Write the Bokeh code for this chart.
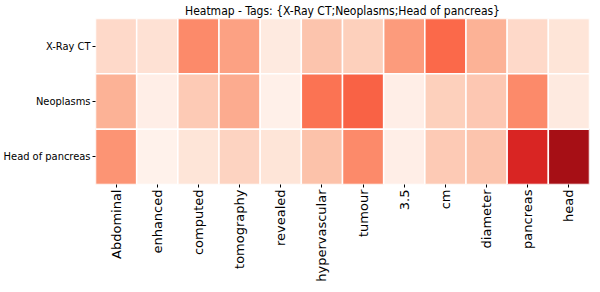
import numpy as np
from bokeh.plotting import figure
from bokeh.models import ColumnDataSource, LinearColorMapper
from bokeh.palettes import Reds256
from bokeh.transform import transform
from bokeh.embed import file_html
from bokeh.resources import INLINE

words = ["Abdominal", "enhanced", "computed", "tomography", "revealed", "hypervascular",
         "tumour", "3.5", "cm", "diameter", "pancreas", "head"]
tags = ["X-Ray CT", "Neoplasms", "Head of pancreas"]

xray_ct = [0.15, 0.12, 0.40, 0.33, 0.07, 0.22, 0.18, 0.35, 0.50, 0.28, 0.15, 0.10]
neoplasms = [0.28, 0.04, 0.20, 0.30, 0.03, 0.47, 0.52, 0.04, 0.18, 0.21, 0.40, 0.07]
head_of_pancreas = [0.37, 0.02, 0.10, 0.17, 0.10, 0.23, 0.40, 0.04, 0.20, 0.22, 0.70, 0.87]

rows = [xray_ct, neoplasms, head_of_pancreas]
xs, ys, vals = [], [], []
for tag, row in zip(tags, rows):
    for w, v in zip(words, row):
        xs.append(w)
        ys.append(tag)
        vals.append(v)
src = ColumnDataSource(dict(x=xs, y=ys, v=vals))

mapper = LinearColorMapper(palette=list(Reds256[::-1]), low=0.0, high=1.0)

p = figure(width=592, height=284, x_range=words, y_range=list(reversed(tags)),
           output_backend="svg", toolbar_location=None,
           title="Heatmap - Tags: {X-Ray CT;Neoplasms;Head of pancreas}",
           min_border_left=85, min_border_right=3, min_border_top=0, min_border_bottom=2)
p.rect(x="x", y="y", width=1, height=1, source=src,
       fill_color=transform("v", mapper), line_color="white", line_width=1.5)

p.title.align = "center"
p.title.text_font = "DejaVu Sans Condensed"
p.title.text_font_size = "12px"
p.title.text_font_style = "normal"
p.title.text_color = "black"
p.title.standoff = 2

p.outline_line_color = None
p.grid.grid_line_color = None
for ax in (p.xaxis, p.yaxis):
    ax.axis_line_color = None
    ax.major_tick_line_color = "black"
    ax.major_tick_in = 0
    ax.major_tick_out = 3
    ax.minor_tick_line_color = None
    ax.major_label_text_color = "black"
    ax.major_label_standoff = 2
p.yaxis.major_label_text_font = "DejaVu Sans Condensed"
p.yaxis.major_label_text_font_size = "11px"
p.xaxis.major_label_text_font = "DejaVu Sans"
p.xaxis.major_label_text_font_size = "13px"
p.xaxis.major_label_orientation = np.pi / 2

open("out.html", "w").write(file_html(p, INLINE))
